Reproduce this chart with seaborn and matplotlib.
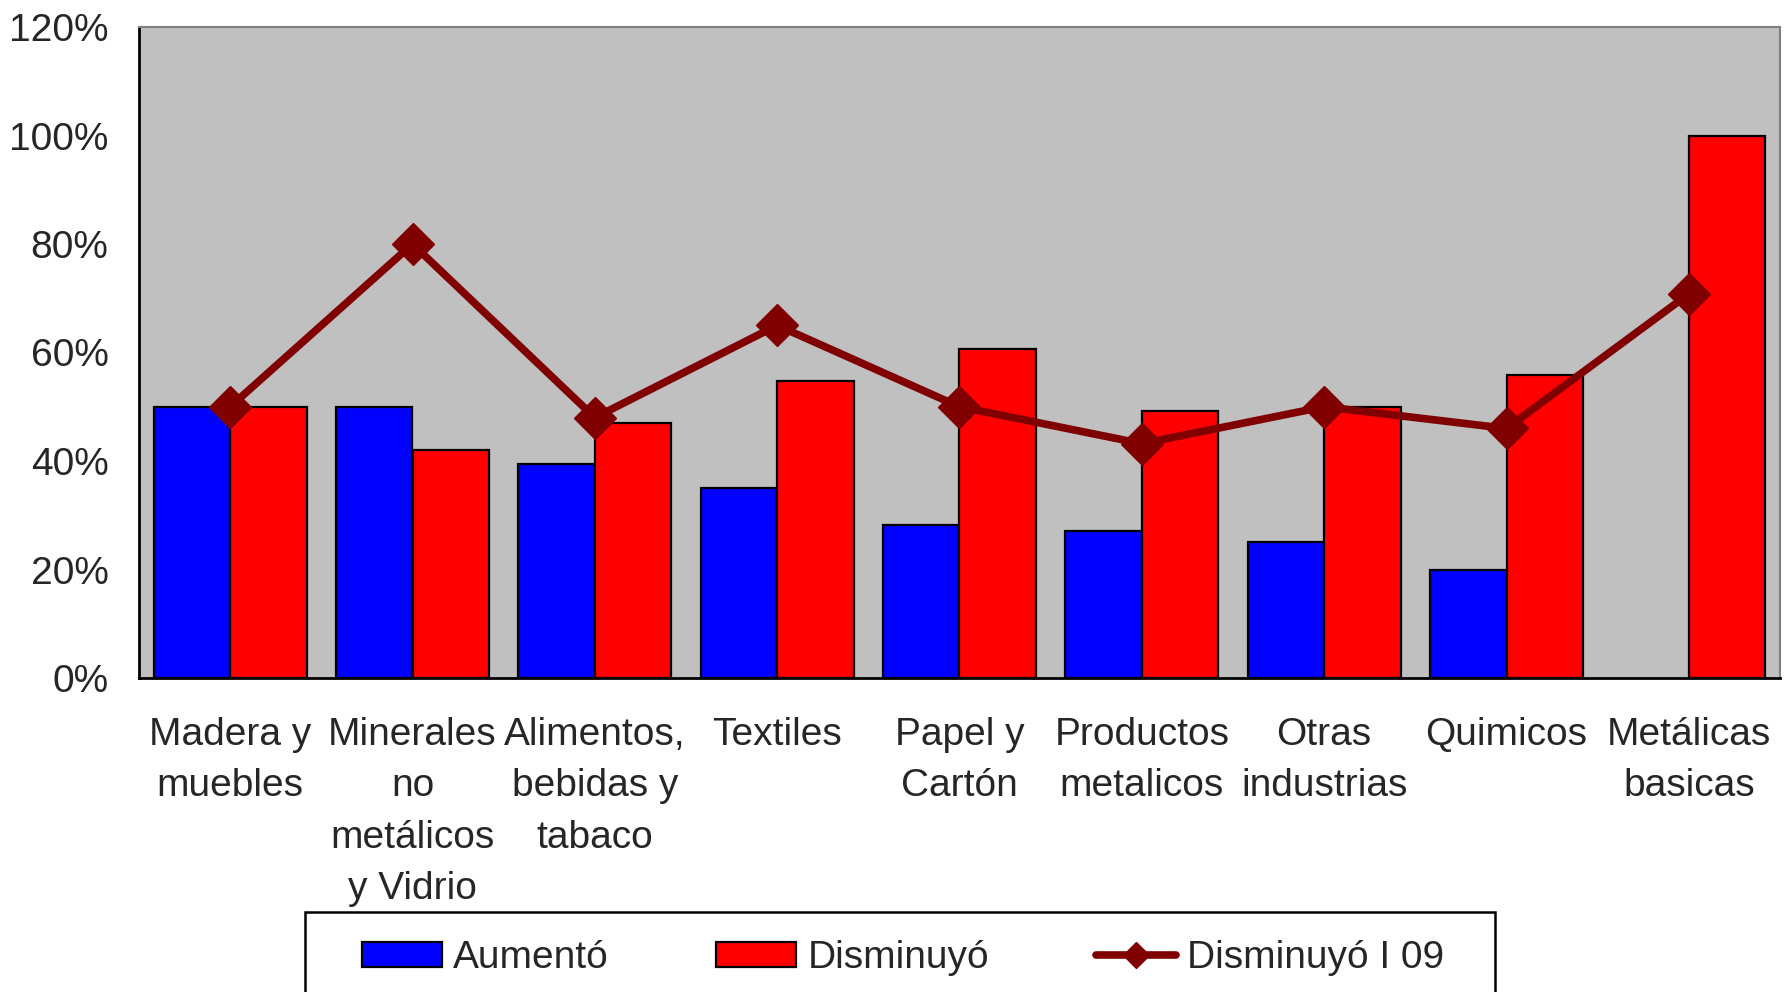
import numpy as np
import pandas as pd
import matplotlib
matplotlib.use("Agg")
import matplotlib.pyplot as plt
import seaborn as sns
from matplotlib.patches import Patch, Rectangle
from matplotlib.lines import Line2D

# Datos (porcentaje de empresas)
categorias = ["Madera y\nmuebles", "Minerales\nno\nmetálicos\ny Vidrio",
              "Alimentos,\nbebidas y\ntabaco", "Textiles", "Papel y\nCartón",
              "Productos\nmetalicos", "Otras\nindustrias", "Quimicos",
              "Metálicas\nbasicas"]
aumento = [50, 50, 39.4, 35, 28.2, 27.1, 25, 20, np.nan]
disminuyo = [50, 42, 47, 54.7, 60.7, 49.3, 50, 55.8, 100]
disminuyo_i09 = [50, 80, 48, 65, 50, 43.2, 50, 46, 70.8]
ticks_y = [0, 20, 40, 60, 80, 100, 120]

df = pd.DataFrame({
    "Sector": categorias * 2,
    "Serie": ["Aumentó"] * len(categorias) + ["Disminuyó"] * len(categorias),
    "Valor": aumento + disminuyo,
})

sns.set_style("white")
plt.rcParams["font.family"] = ["Liberation Sans", "DejaVu Sans"]
FS = 28

fig = plt.figure(figsize=(17.87, 9.92), dpi=100)
ax = fig.add_axes([139 / 1787, 1 - 678 / 992, (1780 - 139) / 1787, (678 - 27) / 992])
ax.set_facecolor("#C0C0C0")

sns.barplot(data=df, x="Sector", y="Valor", hue="Serie", order=categorias,
            palette={"Aumentó": "#0000FF", "Disminuyó": "#FF0000"},
            width=0.84, gap=0, edgecolor="black", linewidth=1.6,
            saturation=1, legend=False, ax=ax)

ax.plot(range(len(categorias)), disminuyo_i09, color="#800000", linewidth=5.5,
        marker="D", markersize=21, zorder=5)

ax.set_xlim(-0.5, len(categorias) - 0.5)
ax.set_ylim(0, 120)
ax.set_yticks(ticks_y)
ax.set_yticklabels([f"{t}%" for t in ticks_y])
ax.set_xlabel("")
ax.set_ylabel("")

ax.set_xticks(range(len(categorias)))
ax.set_xticklabels(categorias, linespacing=1.55)
ax.set_xticks(np.arange(-0.5, len(categorias), 1), minor=True)
ax.tick_params(axis="x", which="major", length=0, pad=28, labelsize=FS)
ax.tick_params(axis="x", which="minor", direction="inout", length=22, width=2, color="black")
ax.tick_params(axis="y", direction="inout", length=20, width=2, color="black",
               pad=12, labelsize=FS)

for side in ["left", "bottom"]:
    ax.spines[side].set_color("black")
    ax.spines[side].set_linewidth(2)
for side in ["top", "right"]:
    ax.spines[side].set_color("#808080")
    ax.spines[side].set_linewidth(1.5)

# marco de la leyenda (se corta en el borde inferior, como en el original)
fig.patches.append(Rectangle((305 / 1787, -0.05), (1495 - 305) / 1787, 0.05 + 1 - 912 / 992,
                             transform=fig.transFigure, facecolor="white",
                             edgecolor="black", linewidth=1.8, zorder=0))

handles = [
    Patch(facecolor="#0000FF", edgecolor="black", linewidth=1.6),
    Patch(facecolor="#FF0000", edgecolor="black", linewidth=1.6),
    Line2D([0], [0], color="#800000", linewidth=5.5, marker="D", markersize=13),
]
leg = fig.legend(handles, ["Aumentó", "Disminuyó", "Disminuyó I 09"],
                 loc="center left", bbox_to_anchor=(362 / 1787, 1 - 958 / 992),
                 ncol=3, fontsize=FS, frameon=False, handlelength=2.05,
                 handleheight=0.6, handletextpad=0.3, columnspacing=2.75,
                 borderpad=0, borderaxespad=0)

fig.savefig("out.png", dpi=100)
